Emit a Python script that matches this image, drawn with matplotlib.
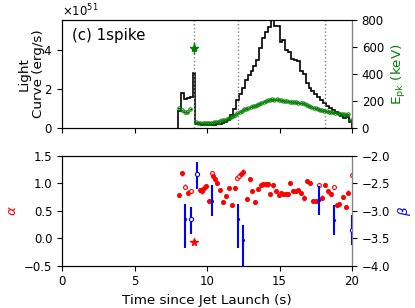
import numpy as np
import matplotlib
matplotlib.use('Agg')
import matplotlib.pyplot as plt

plt.rcParams['font.family'] = ['DejaVu Sans']
plt.rcParams['font.size'] = 8.5

# ---------------- data ----------------
# light curve: 0.2 s bins starting at 8.0 s (units of 1e51 erg/s)
lc_start = 8.0
lc_width = 0.2
lc_vals = [0.86, 1.81, 1.51, 1.55, 1.59, 2.82, 0.22, 0.18, 0.15, 0.14,
           0.14, 0.15, 0.16, 0.18, 0.20, 0.25, 0.32, 0.42, 0.65, 1.00,
           1.45, 1.75, 2.05, 2.45, 2.70, 2.95, 3.20, 3.50, 4.10, 4.60,
           4.90, 5.20, 5.52, 5.25, 5.25, 4.40, 4.50, 4.00, 3.90, 3.55,
           3.50, 3.45, 2.95, 2.75, 2.30, 2.05, 1.90, 1.75, 1.60, 1.45,
           1.30, 1.15, 1.02, 0.92, 0.82, 0.74, 0.62, 0.50, 0.58, 0.30]

# Epk (keV)
epk_t_early = [8.05, 8.25, 8.45, 8.65, 8.85]
epk_early = [145, 131, 119, 117, 138]
epk_t_start = 9.25
epk_dt = 0.15
epk_vals = [42, 40, 39, 38, 38, 38, 39, 40, 42, 45,
            48, 52, 57, 62, 67, 72, 78, 88, 100, 110,
            118, 128, 138, 142, 148, 155, 160, 166, 172, 180,
            188, 195, 200, 205, 210, 212, 210, 212, 208, 205,
            202, 200, 198, 196, 193, 192, 190, 188, 185, 182,
            178, 170, 160, 152, 148, 145, 140, 132, 130, 128,
            124, 120, 118, 115, 112, 110, 107, 104, 102, 100,
            102, 62]
epk_star_t = 9.1
epk_star = 590
epk_star_err = [[40], [50]]

# alpha
alpha_t = [8.09, 8.30, 8.50, 8.71, 8.90, 9.52, 9.63, 9.75, 9.86, 9.95,
           10.12, 10.32, 10.43, 10.55, 10.71, 10.90, 11.10, 11.31, 11.49, 11.70,
           11.91, 12.09, 12.23, 12.37, 12.50, 12.74, 12.94, 13.13, 13.33, 13.54,
           13.72, 13.89, 14.05, 14.18, 14.34, 14.53, 14.76, 14.95, 15.10, 15.26,
           15.43, 15.57, 15.72, 15.93, 16.12, 16.30, 16.48, 16.71, 16.92, 17.10,
           17.33, 17.49, 17.72, 17.91, 18.14, 18.32, 18.53, 18.76, 18.94, 19.12,
           19.36, 19.56, 19.75, 19.98]
alpha_v = [0.79, 1.18, 0.94, 0.83, 0.86, 0.88, 0.85, 0.89, 0.93, 0.95,
           0.68, 1.18, 1.13, 1.07, 1.00, 0.88, 0.66, 0.77, 0.91, 0.60,
           0.91, 1.09, 1.13, 1.17, 1.21, 0.71, 1.07, 0.86, 0.66, 0.89,
           0.97, 0.98, 0.98, 0.98, 0.80, 0.96, 0.86, 0.79, 0.82, 0.80,
           0.80, 0.80, 1.00, 0.86, 0.86, 0.88, 0.82, 0.74, 1.04, 1.00,
           0.68, 0.68, 0.97, 0.74, 0.97, 0.85, 0.80, 0.93, 0.60, 0.62,
           0.75, 0.57, 0.83, 1.15]
alpha_open = [0, 0, 1, 0, 1, 0, 0, 0, 0, 0,
              0, 1, 0, 0, 0, 0, 0, 0, 0, 0,
              0, 1, 1, 0, 0, 0, 0, 0, 0, 0,
              0, 0, 0, 0, 0, 0, 0, 0, 0, 0,
              0, 0, 0, 0, 0, 0, 0, 0, 0, 0,
              0, 0, 1, 0, 0, 0, 0, 1, 0, 0,
              0, 0, 0, 1]
alpha_star_t = 9.1
alpha_star = -0.07

# beta
beta_t = [8.50, 8.90, 9.31, 10.32, 12.11, 12.51, 17.72, 18.76, 19.98]
beta_v = [-3.15, -3.15, -2.34, -2.82, -3.15, -3.53, -2.81, -3.17, -3.35]
beta_lo = [-3.67, -3.42, -2.61, -3.09, -3.67, -4.05, -3.08, -3.44, -3.62]
beta_hi = [-2.87, -2.93, -2.11, -2.53, -2.88, -3.26, -2.55, -2.90, -3.08]
beta_open = [0, 1, 1, 0, 0, 0, 0, 0, 1]

vlines_t = [9.1, 12.12, 18.15]

green = '#008000'
red = '#ff0000'
blue = '#0000ff'
label_fs = 9.7

# ---------------- figure ----------------
fig = plt.figure(figsize=(4.15, 3.08), dpi=100)
ax1 = fig.add_axes([0.1494, 0.5844, 0.6988, 0.3506])
ax2 = fig.add_axes([0.1494, 0.1373, 0.6988, 0.3571])

# top panel light curve
lc_vals_a = np.array(lc_vals) * 1e51
edges = lc_start + lc_width * np.arange(len(lc_vals) + 1)
ax1.stairs(lc_vals_a, edges, color='black', lw=1.2, baseline=0)
for v in vlines_t:
    ax1.axvline(v, color='gray', ls=':', lw=1.0)
ax1.set_xlim(0, 20)
ax1.set_ylim(0, 5.54e51)
ax1.set_yticks([0, 2e51, 4e51])
ax1.ticklabel_format(axis='y', useMathText=True)
ax1.set_xticks([0, 5, 10, 15, 20])
ax1.set_xticklabels([])
ax1.set_ylabel('Light\nCurve (erg/s)', linespacing=1.05, fontsize=label_fs)
ax1.yaxis.set_label_coords(-0.06, 0.5)
ax1.text(0.035, 0.86, '(c) 1spike', transform=ax1.transAxes, fontsize=10.8,
         va='center', ha='left')

ax1r = ax1.twinx()
ax1r.errorbar(epk_t_early, epk_early, xerr=0.1, yerr=3, fmt='o', color=green,
              ms=2.5, mfc='none', mew=0.7, elinewidth=0.8)
epk_t = epk_t_start + epk_dt * np.arange(len(epk_vals))
ax1r.errorbar(epk_t, epk_vals, xerr=epk_dt / 2, yerr=3, fmt='o', color=green,
              ms=2.4, mfc='none', mew=0.7, elinewidth=0.8)
ax1r.errorbar([epk_star_t], [epk_star], yerr=epk_star_err, fmt='*', color=green,
              ms=6, elinewidth=1.0)
ax1r.set_ylim(0, 800)
ax1r.set_yticks([0, 200, 400, 600, 800])
ax1r.set_ylabel(r'E$_{\rm pk}$ (keV)', color=green, fontsize=label_fs)
ax1r.spines['right'].set_color('gray')

# bottom panel alpha
for t, a, o in zip(alpha_t, alpha_v, alpha_open):
    ax2.errorbar([t], [a], yerr=0.04, fmt='o', color=red, ms=2.8,
                 mfc='white' if o else red, mew=0.8, elinewidth=1.0)
ax2.plot([alpha_star_t], [alpha_star], '*', color=red, ms=5.5)
ax2.set_xlim(0, 20)
ax2.set_ylim(-0.5, 1.5)
ax2.set_yticks([-0.5, 0.0, 0.5, 1.0, 1.5])
ax2.set_xticks([0, 5, 10, 15, 20])
ax2.set_xlabel('Time since Jet Launch (s)', fontsize=label_fs)
ax2.set_ylabel(r'$\alpha$', color=red, fontsize=label_fs)
ax2.yaxis.set_label_coords(-0.15, 0.5)

ax2r = ax2.twinx()
for t, b, lo, hi, o in zip(beta_t, beta_v, beta_lo, beta_hi, beta_open):
    ax2r.errorbar([t], [b], yerr=[[b - lo], [hi - b]], xerr=0.06, fmt='o',
                  color=blue, ms=3.0 if o else 1.5, mfc='white' if o else blue,
                  mew=0.8, elinewidth=1.5)
ax2r.set_ylim(-4.0, -2.0)
ax2r.set_yticks([-4.0, -3.5, -3.0, -2.5, -2.0])
ax2r.set_ylabel(r'$\beta$', color=blue, fontsize=label_fs)
ax2r.spines['right'].set_color('gray')

fig.savefig('out.png', dpi=100)
